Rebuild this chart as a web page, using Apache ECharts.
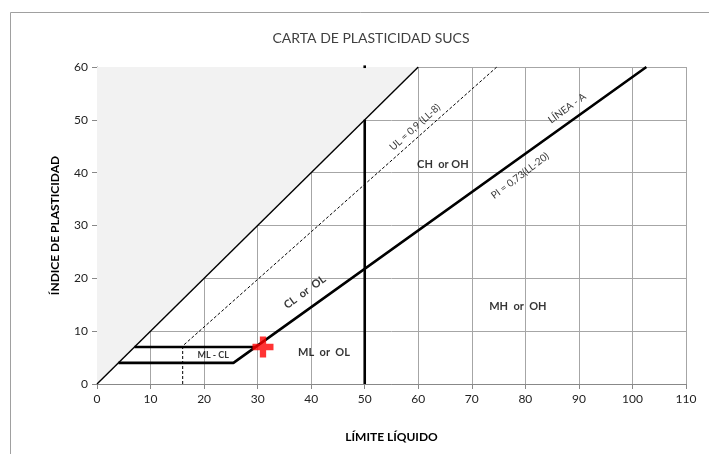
<!DOCTYPE html>
<html>
<head>
<meta charset="utf-8">
<script src="https://cdn.jsdelivr.net/npm/echarts@6/dist/echarts.min.js"></script>
<style>html,body{margin:0;padding:0;background:#fff;}#c{width:709px;height:454px;}</style>
</head>
<body>
<div id="c"></div>
<script>
// ---- data ----
const xTicks = [0,10,20,30,40,50,60,70,80,90,100,110];
const yTicks = [0,10,20,30,40,50,60];
const shadeZone = [[0,0],[60,60],[0,60]];
const lineOneToOne = [[0,0],[60,60]];
const lineA = [[4,4],[25.48,4],[102.6,60]];
const lineSeven = [[7,7],[29.59,7]];
const lineLL50 = [[50,0],[50,50]];
const lineLL50Top = [[50,59.8],[50,60.3]];
const lineU = [[16,0],[16,7.2],[74.67,60]];
const samplePoint = [[31,7]];
const zoneNames = ['ML - CL','ML  or  OL','CL  or  OL','CH  or OH','MH  or  OH'];
const zoneCoords = [[21.7,5.5],[42.4,5.9],[38.8,17.4],[64.6,41.6],[78.6,14.6]];
const eqNames = ['UL = 0,9 (LL-8)','LÍNEA - A','PI = 0,73(LL-20)'];
const eqCoords = [[59.4,48.6],[87.8,52.2],[79.0,39.4]];

const FONT = 'Lato, "Open Sans", sans-serif';
const zoneStyle = [
  {fontSize:9, rotate:0},
  {fontSize:11, rotate:0},
  {fontSize:11, rotate:36},
  {fontSize:11, rotate:0},
  {fontSize:11, rotate:0}
];
const eqStyle = [{rotate:42},{rotate:36},{rotate:37}];

const chart = echarts.init(document.getElementById('c'));
const thick = {color:'#000', width:2.6};
chart.setOption({
  backgroundColor:'#fff',
  animation:false,
  title:{text:'CARTA DE PLASTICIDAD SUCS', left:366, top:26, textAlign:'center',
    textStyle:{fontFamily:FONT, fontWeight:'normal', fontSize:14, color:'#404040'}},
  grid:{left:97, right:23, top:67, bottom:70},
  xAxis:{type:'value', min:0, max:110, interval:10,
    name:'LÍMITE LÍQUIDO', nameLocation:'middle', nameGap:47,
    nameTextStyle:{fontFamily:FONT, fontWeight:'bold', fontSize:12, color:'#000'},
    axisLine:{lineStyle:{color:'#888'}}, axisTick:{show:true, length:5, lineStyle:{color:'#888'}},
    axisLabel:{fontFamily:FONT, fontSize:12, color:'#222', margin:9},
    splitLine:{show:true, lineStyle:{color:'#a6a6a6', width:1}}},
  yAxis:{type:'value', min:0, max:60, interval:10,
    name:'ÍNDICE DE PLASTICIDAD', nameLocation:'middle', nameGap:36,
    nameTextStyle:{fontFamily:FONT, fontWeight:'bold', fontSize:12, color:'#000'},
    axisLine:{show:true, lineStyle:{color:'#888'}}, axisTick:{show:true, length:5, lineStyle:{color:'#888'}},
    axisLabel:{fontFamily:FONT, fontSize:12, color:'#222', margin:9},
    splitLine:{show:true, lineStyle:{color:'#a6a6a6', width:1}}},
  graphic:[{type:'rect', shape:{x:10.5, y:12.5, width:720, height:460}, style:{fill:'none', stroke:'#a0a0a0', lineWidth:1}, z:-10}],
  series:[
    {type:'line', data:shadeZone.concat([shadeZone[0]]), symbol:'none', lineStyle:{width:0}, areaStyle:{color:'#f2f2f2', opacity:1}, z:1, silent:true},
    {type:'line', data:lineOneToOne, symbol:'none', lineStyle:{color:'#000', width:1.4}, z:3},
    {type:'line', data:lineU, symbol:'none', lineStyle:{color:'#000', width:1, type:[3,2]}, z:3},
    {type:'line', data:lineA, symbol:'none', lineStyle:thick, z:4},
    {type:'line', data:lineSeven, symbol:'none', lineStyle:thick, z:4},
    {type:'line', data:lineLL50, symbol:'none', lineStyle:thick, z:4},
    {type:'line', data:lineLL50Top, symbol:'none', clip:false, lineStyle:thick, z:4},
    {type:'scatter', data:samplePoint, symbol:'path://M7,0H13V7H20V13H13V20H7V13H0V7H7Z', symbolSize:21, itemStyle:{color:'#ff0000'}, z:6},
    {type:'scatter', symbolSize:0, z:7, silent:true,
      data:zoneNames.map((t,i)=>({value:zoneCoords[i], name:t,
        label:{show:true, position:'inside', formatter:t, rotate:zoneStyle[i].rotate,
          fontFamily:FONT, fontWeight:'bold', fontSize:zoneStyle[i].fontSize, color:'#000'}}))},
    {type:'scatter', symbolSize:0, z:7, silent:true,
      data:eqNames.map((t,i)=>({value:eqCoords[i], name:t,
        label:{show:true, position:'inside', formatter:t, rotate:eqStyle[i].rotate,
          fontFamily:FONT, fontSize:10, color:'#000'}}))}
  ]
});
</script>
</body>
</html>
